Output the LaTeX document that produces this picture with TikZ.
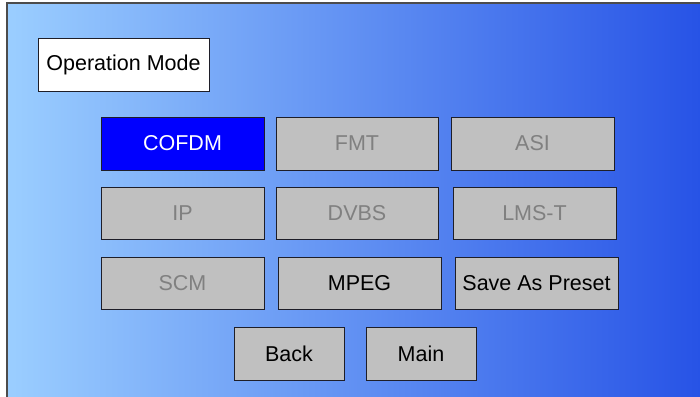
\documentclass[tikz,border=0pt]{standalone}
\usepackage{fontspec}
\setmainfont{Liberation Sans}
\definecolor{bgleft}{RGB}{155,206,255}
\definecolor{bgright}{RGB}{38,82,230}
\definecolor{btnfill}{RGB}{192,192,192}
\definecolor{btnline}{RGB}{30,30,40}
\definecolor{dimtext}{RGB}{128,128,128}
\begin{document}
\begin{tikzpicture}[x=1bp,y=-1bp,
  btn/.style={draw=btnline, line width=0.9bp, fill=btnfill, inner sep=0pt,
    minimum width=#1, minimum height=53bp, font=\fontsize{21.5bp}{24bp}\selectfont},
  btn/.default=163bp,
  dim/.style={text=dimtext},
  lbl/.style={draw=btnline, line width=0.9bp, fill=white, inner sep=0pt,
    minimum width=171bp, minimum height=53bp, font=\fontsize{21.5bp}{24bp}\selectfont}]
\useasboundingbox (0,0) rectangle (700,396);
\shade[left color=bgleft, right color=bgright] (7,3) rectangle (706,400);
\draw[draw=black!70, line width=1.2bp] (7,402) -- (7,3) -- (706,3);
\node[lbl] (opmode) at (123.5,64.5) {Operation Mode};
\node[btn, fill={rgb,255:red,0;green,0;blue,255}, text=white] (cofdm) at (182.5,143.5) {COFDM};
\node[btn=162bp, dim] (fmt) at (357,143.5) {FMT};
\node[btn, dim] (asi) at (532.5,143.5) {ASI};
\node[btn, dim, minimum height=52bp] (ip) at (182.5,213) {IP};
\node[btn=162bp, dim, minimum height=52bp] (dvbs) at (357,213) {DVBS};
\node[btn, dim, minimum height=52bp] (lmst) at (534.5,213) {LMS-T};
\node[btn, dim, minimum height=52bp] (scm) at (182.5,283) {SCM};
\node[btn, minimum height=52bp] (mpeg) at (359.5,283) {MPEG};
\node[btn, minimum height=52bp] (save) at (536.5,283) {Save As Preset};
\node[btn=110bp] (back) at (289,353.5) {Back};
\node[btn=110bp] (main) at (421,353.5) {Main};
\end{tikzpicture}
\end{document}
